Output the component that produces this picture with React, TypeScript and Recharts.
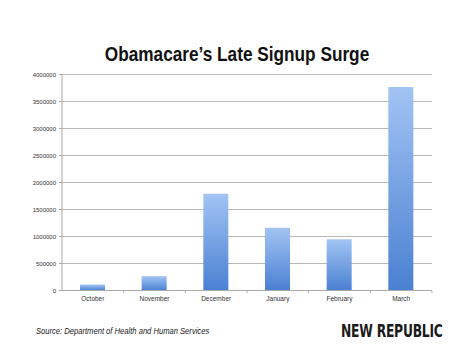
import React from "react";
import { BarChart, Bar, XAxis, YAxis, CartesianGrid } from "recharts";

const months = ["October", "November", "December", "January", "February", "March"];
const signups = [110000, 265000, 1790000, 1160000, 950000, 3770000];
const yTicks = [0, 500000, 1000000, 1500000, 2000000, 2500000, 3000000, 3500000, 4000000];

const data = months.map((m, i) => ({ month: m, signups: signups[i] }));

const W = 474;
const H = 355;
const BAND = (432 - 62) / months.length;

const XTick = (props: any) => {
  const { x, y, payload } = props;
  return (
    <g>
      <line x1={x + BAND / 2} x2={x + BAND / 2} y1={y} y2={y + 2.5} stroke="#999" strokeWidth={0.8} />
      <text x={x} y={y + 10} textAnchor="middle" fontSize={6.5} fill="#333" fontFamily="Liberation Sans, Arial, sans-serif">
        {payload.value}
      </text>
    </g>
  );
};

export default function App() {
  return (
    <div style={{ position: "absolute", left: 0, top: 0, width: W, height: H, background: "#fff", overflow: "hidden" }}>
      <BarChart
        width={W}
        height={H}
        data={data}
        margin={{ top: 74.5, right: 42, bottom: 34.5, left: 2 }}
        barCategoryGap="30%"
      >
        <defs>
          <linearGradient id="barGrad" x1="0" y1="0" x2="0" y2="1">
            <stop offset="0%" stopColor="#a2c4f4" />
            <stop offset="100%" stopColor="#4a80d2" />
          </linearGradient>
        </defs>
        <CartesianGrid vertical={false} stroke="#b8b8b8" strokeWidth={1} />
        <XAxis
          dataKey="month"
          axisLine={{ stroke: "#aaa" }}
          tickLine={false}
          tickSize={0}
          tickMargin={0}
          tick={<XTick />}
          interval={0}
          height={30}
        />
        <YAxis
          domain={[0, 4000000]}
          ticks={yTicks}
          width={60}
          axisLine={{ stroke: "#aaa" }}
          tickLine={{ stroke: "#aaa" }}
          tickSize={3}
          tick={{ fontSize: 6, fill: "#333", fontFamily: "Liberation Sans, Arial, sans-serif" }}
          tickMargin={3}
          interval={0}
        />
        <Bar dataKey="signups" fill="url(#barGrad)" barSize={25} isAnimationActive={false} />
      </BarChart>
      <div
        style={{
          position: "absolute",
          left: 0,
          width: W,
          top: 41,
          textAlign: "center",
          fontFamily: "Liberation Sans, Arial, sans-serif",
          fontWeight: "bold",
          fontSize: 21,
          color: "#111",
          lineHeight: "26px",
          transform: "scaleX(0.82)",
          transformOrigin: "center",
          whiteSpace: "nowrap",
        }}
      >
        Obamacare’s Late Signup Surge
      </div>
      <div
        style={{
          position: "absolute",
          left: 36,
          top: 325,
          fontFamily: "Liberation Sans, Arial, sans-serif",
          fontStyle: "italic",
          fontSize: 9.5,
          color: "#222",
          lineHeight: "12px",
          transform: "scaleX(0.8)",
          transformOrigin: "left center",
          whiteSpace: "nowrap",
        }}
      >
        Source: Department of Health and Human Services
      </div>
      <div
        style={{
          position: "absolute",
          left: 341,
          top: 320,
          fontFamily: "DejaVu Sans Condensed, DejaVu Sans, sans-serif",
          fontWeight: "bold",
          fontSize: 18,
          color: "#1a1a1a",
          lineHeight: "22px",
          letterSpacing: "-0.3px",
          whiteSpace: "nowrap",
          transform: "scaleX(0.76)",
          transformOrigin: "left center",
        }}
      >
        NEW REPUBLIC
      </div>
    </div>
  );
}
